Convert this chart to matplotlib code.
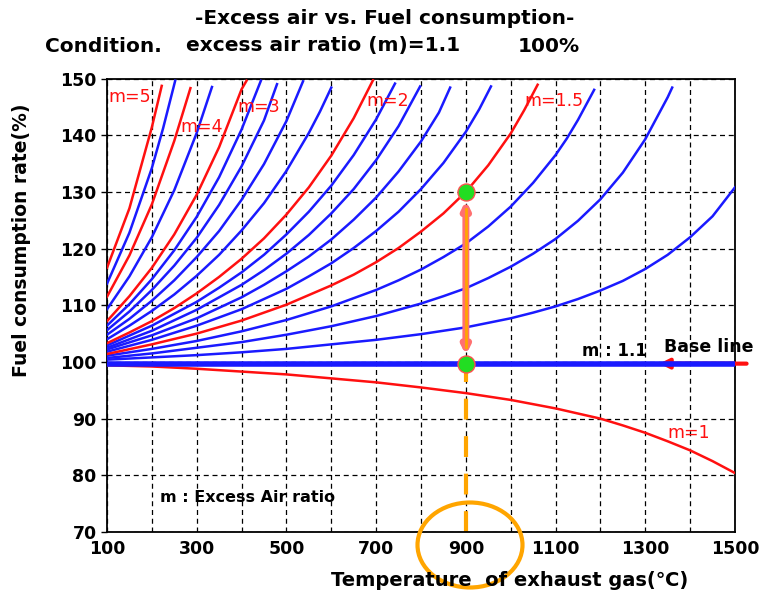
import matplotlib
matplotlib.use("Agg")
from matplotlib import pyplot as plt
from matplotlib.patches import Ellipse

plt.rcParams['font.family'] = ['DejaVu Sans', 'Noto Sans CJK KR']

# fuel consumption rate (%), one curve per excess air ratio m
T_m5 = [100, 150, 200, 222]
F_m5 = [116.6, 127.1, 141.4, 148.7]
T_m45 = [100, 150, 200, 225, 252]
F_m45 = [113.8, 122.8, 134.2, 141.2, 149.6]
T_m4 = [100, 150, 200, 250, 286]
F_m4 = [111.5, 118.8, 127.8, 139.0, 148.3]
T_m35 = [100, 150, 200, 250, 300, 334]
F_m35 = [109.3, 115.1, 122.0, 130.3, 140.4, 148.5]
T_m3 = [100, 150, 200, 250, 300, 350, 400, 411]
F_m3 = [107.2, 111.6, 116.6, 122.5, 129.5, 137.9, 148.1, 149.6]
T_m28 = [100, 150, 200, 250, 300, 350, 400, 443]
F_m28 = [106.4, 110.2, 114.6, 119.7, 125.6, 132.6, 141.0, 149.6]
T_m26 = [100, 150, 200, 250, 300, 350, 400, 450, 479]
F_m26 = [105.6, 108.9, 112.7, 117.0, 121.9, 127.7, 134.5, 142.6, 149.0]
T_m24 = [100, 150, 200, 250, 300, 350, 400, 450, 500, 537]
F_m24 = [104.8, 107.6, 110.8, 114.4, 118.5, 123.1, 128.6, 134.9, 142.5, 149.5]
T_m22 = [100, 150, 200, 250, 300, 350, 400, 450, 500, 550, 575, 600]
F_m22 = [104.0, 106.4, 109.0, 111.9, 115.2, 118.9, 123.2, 128.0, 133.7, 140.4, 144.2, 148.4]
T_m2 = [100, 150, 200, 250, 300, 350, 400, 450, 500, 550, 600, 650, 693]
F_m2 = [103.3, 105.2, 107.2, 109.5, 112.1, 115.0, 118.2, 121.8, 126.0, 130.8, 136.4, 143.0, 149.7]
T_m19 = [100, 200, 300, 350, 400, 450, 500, 550, 600, 650, 700, 742]
F_m19 = [102.9, 106.4, 110.6, 113.1, 115.8, 118.9, 122.5, 126.5, 131.1, 136.5, 142.8, 149.1]
T_m18 = [100, 200, 300, 400, 450, 500, 550, 600, 650, 700, 750, 798]
F_m18 = [102.5, 105.5, 109.2, 113.6, 116.2, 119.1, 122.4, 126.2, 130.5, 135.6, 141.6, 148.6]
T_m17 = [100, 200, 300, 400, 450, 500, 550, 600, 650, 700, 750, 800, 840, 865]
F_m17 = [102.2, 104.7, 107.7, 111.4, 113.6, 116.0, 118.6, 121.6, 125.1, 129.0, 133.6, 138.9, 144.0, 148.4]
T_m16 = [100, 200, 300, 400, 500, 550, 600, 650, 700, 750, 800, 850, 900, 930, 956]
F_m16 = [101.8, 103.9, 106.4, 109.3, 112.9, 115.1, 117.4, 120.1, 123.1, 126.5, 130.5, 135.1, 140.6, 144.6, 148.6]
T_m15 = [100, 200, 300, 400, 500, 600, 650, 700, 750, 800, 850, 900, 950, 1000, 1030, 1060]
F_m15 = [101.4, 103.1, 105.0, 107.3, 110.1, 113.5, 115.4, 117.6, 120.1, 123.0, 126.2, 130.0, 134.7,
         140.3, 144.4, 148.9]
T_m14 = [100, 200, 300, 400, 500, 600, 700, 750, 800, 850, 900, 950, 1000, 1050, 1100, 1125,
         1150, 1186]
F_m14 = [101.1, 102.3, 103.7, 105.4, 107.4, 109.8, 112.7, 114.4, 116.3, 118.5, 120.9, 123.9, 127.4,
         131.6, 136.5, 139.4, 142.7, 148.0]
T_m13 = [100, 200, 300, 400, 500, 600, 700, 800, 850, 900, 950, 1000, 1050, 1100, 1150, 1200,
         1250, 1300, 1350, 1360]
F_m13 = [100.7, 101.5, 102.5, 103.5, 104.8, 106.3, 108.1, 110.3, 111.6, 113.0, 114.8, 116.8, 119.1,
         121.7, 124.9, 128.7, 133.4, 139.3, 146.7, 148.4]
T_m12 = [100, 200, 300, 400, 500, 600, 700, 800, 900, 950, 1000, 1050, 1100, 1150, 1200, 1250,
         1300, 1350, 1400, 1450, 1500]
F_m12 = [100.4, 100.8, 101.2, 101.7, 102.3, 103.1, 103.9, 104.9, 106.1, 106.9, 107.7, 108.7, 109.8,
         111.1, 112.6, 114.3, 116.4, 118.9, 122.0, 125.7, 130.8]
T_m11 = [100, 1500]
F_m11 = [99.7, 99.7]
T_m1 = [100, 200, 300, 400, 500, 600, 700, 800, 900, 1000, 1100, 1150, 1200, 1250, 1300, 1350,
        1400, 1450, 1500]
F_m1 = [99.4, 99.2, 98.8, 98.3, 97.8, 97.1, 96.4, 95.5, 94.5, 93.3, 91.8, 90.9, 90.0, 88.8, 87.5,
        86.0, 84.4, 82.5, 80.4]

red_curves = [(T_m5, F_m5), (T_m4, F_m4), (T_m3, F_m3), (T_m2, F_m2),
              (T_m15, F_m15), (T_m1, F_m1)]
blue_curves = [(T_m45, F_m45), (T_m35, F_m35), (T_m28, F_m28), (T_m26, F_m26),
               (T_m24, F_m24), (T_m22, F_m22), (T_m19, F_m19), (T_m18, F_m18),
               (T_m17, F_m17), (T_m16, F_m16), (T_m14, F_m14), (T_m13, F_m13),
               (T_m12, F_m12)]

# curve labels: text, temperature, rate
labels = [("m=5", 102, 146.7), ("m=4", 263, 141.4), ("m=3", 390, 145.0),
          ("m=2", 678, 146.0), ("m=1.5", 1030, 146.0), ("m=1", 1350, 87.4)]

# operating point example at 900 C
T_pick = 900
F_pick_top = 130.0
F_pick_base = 99.7

x_ticks = [100, 300, 500, 700, 900, 1100, 1300, 1500]
y_ticks = [70, 80, 90, 100, 110, 120, 130, 140, 150]

RED = '#ff1010'
BLUE = '#1a1aff'

fig = plt.figure(figsize=(7.67, 5.94), dpi=100)
ax = fig.add_axes([107/767, 62/594, 628/767, 453.5/594])

ax.set_xlim(100, 1500)
ax.set_ylim(70, 150)
ax.set_xticks(x_ticks)
ax.set_xticks(range(100, 1501, 100), minor=True)
ax.set_yticks(y_ticks)
ax.grid(True, which='both', color='black', linestyle=(0, (4, 3)), linewidth=0.9)
ax.tick_params(which='minor', length=0)
ax.tick_params(which='major', length=4, width=1, labelsize=12.5)
ax.tick_params(axis='x', which='major', length=0, pad=6)
for lab in ax.get_xticklabels() + ax.get_yticklabels():
    lab.set_fontweight('bold')
for s in ax.spines.values():
    s.set_linewidth(1.3)

for t, f in blue_curves:
    ax.plot(t, f, color=BLUE, linewidth=1.8, zorder=3)
for t, f in red_curves:
    ax.plot(t, f, color=RED, linewidth=1.8, zorder=3)

# base line arrow, partly hidden under the thick blue line
ax.annotate("", xy=(1325, F_pick_base), xytext=(1532, F_pick_base),
            arrowprops=dict(arrowstyle='-|>', color=RED, lw=3, mutation_scale=14),
            annotation_clip=False, zorder=3)
ax.plot(T_m11, F_m11, color=BLUE, linewidth=4, zorder=4, solid_capstyle='butt')

# vertical marker at 900 C
ax.plot([T_pick, T_pick], [70, F_pick_base], color='orange', linewidth=3,
        linestyle=(0, (5, 4)), zorder=2)
ax.annotate("", xy=(T_pick, F_pick_top - 1), xytext=(T_pick, F_pick_base + 1),
            arrowprops=dict(arrowstyle='<|-|>', color='#ff7070', lw=5, mutation_scale=10),
            zorder=5)
ax.plot([T_pick, T_pick], [F_pick_base + 3, F_pick_top - 3], color='orange',
        linewidth=2, zorder=6)
ax.scatter([T_pick, T_pick], [F_pick_top, F_pick_base], s=150, color='#22dd22',
           edgecolors='#ff5050', linewidths=1, zorder=7)

for txt, t, f in labels:
    ax.text(t, f, txt, color=RED, fontsize=12.5, va='center', ha='left', zorder=8)

ax.text(1158, 101.9, "m : 1.1", fontsize=12, fontweight='bold', va='center', ha='left')
ax.text(1342, 102.7, "Base line", fontsize=12.5, fontweight='bold', va='center', ha='left',
        clip_on=False)
ax.text(218, 76.0, "m : Excess Air ratio", fontsize=11.5, fontweight='bold',
        va='center', ha='left')

fig.text(385/767, 1 - 18/594, "-Excess air vs. Fuel consumption-", fontsize=14.5,
         fontweight='bold', ha='center', va='center')
fig.text(45/767, 1 - 46/594, "Condition.", fontsize=14.5, fontweight='bold',
         ha='left', va='center')
fig.text(186/767, 1 - 46/594, "excess air ratio (m)=1.1", fontsize=14.5,
         fontweight='bold', ha='left', va='center')
fig.text(580/767, 1 - 46/594, "100%", fontsize=14.5, fontweight='bold',
         ha='right', va='center')
fig.text(22/767, 1 - 240/594, "Fuel consumption rate(%)", fontsize=13.5,
         fontweight='bold', rotation=90, ha='center', va='center')
fig.text(510/767, 1 - 580/594, "Temperature  of exhaust gas(℃)", fontsize=14,
         fontweight='bold', ha='center', va='center')

fig.patches.append(Ellipse((470/767, 1 - 545/594), 105/767, 85/594,
                           transform=fig.transFigure, fill=False,
                           edgecolor='orange', linewidth=3))

fig.savefig("out.png", dpi=100)
